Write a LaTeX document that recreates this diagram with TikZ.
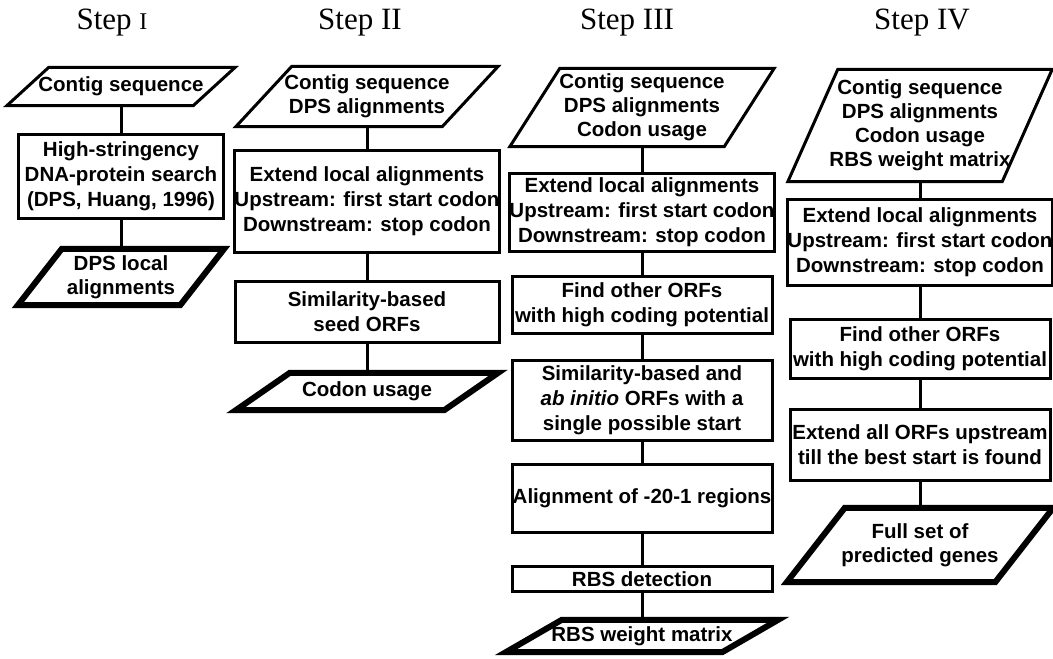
\documentclass[tikz,border=0pt]{standalone}
\usepackage{fontspec}
\setmainfont{Liberation Sans}
\newfontfamily\titlefont{Liberation Serif}
\usetikzlibrary{positioning}

% parallelogram round a text node: name, half slant, style
\newcommand{\iobox}[3]{\draw[#3] ([xshift=-#2]#1.south west) -- ([xshift=#2]#1.north west)
  -- ([xshift=#2]#1.north east) -- ([xshift=-#2]#1.south east) -- cycle;}

\begin{document}
\begin{tikzpicture}[x=1pt,y=-1pt,
  steptitle/.style={font=\titlefont\fontsize{31}{31}\selectfont},
  box/.style={draw,line width=3pt,inner sep=0pt,align=center,
    font=\bfseries\fontsize{20.5}{25}\selectfont},
  io/.style={inner sep=0pt,align=center,font=\bfseries\fontsize{20.5}{24}\selectfont},
  link/.style={line width=3pt}]
\useasboundingbox (0,0) rectangle (1053,659);

\node[steptitle] (t1) at (112,23) {Step {\fontsize{24}{24}\selectfont I}};
\node[steptitle] (t2) at (360,23) {Step II};
\node[steptitle] (t3) at (627,23) {Step III};
\node[steptitle] (t4) at (922,23) {Step IV};

% Step I
\node[io,minimum width=186pt,minimum height=38pt] (in1) at (121,86.5) {Contig sequence};
\node[box,minimum width=205pt,minimum height=84pt] (box1) at (121,176.5)
  {High-stringency\\DNA-protein search\\(DPS, Huang, 1996)};
\node[io,minimum width=162pt,minimum height=56pt] (out1) at (121,277) {DPS local\\alignments};
\iobox{in1}{21pt}{line width=3pt}
\iobox{out1}{22pt}{line width=6pt}

% Step II
\node[io,minimum width=206pt,minimum height=60pt] (in2) at (367,96.5) {Contig sequence\\DPS alignments};
\node[box,minimum width=264pt,minimum height=102pt] (box2a) at (367,201.5)
  {Extend local alignments\\Upstream: first start codon\\Downstream: stop codon};
\node[box,minimum width=264pt,minimum height=61pt] (box2b) at (367,312) {Similarity-based\\seed ORFs};
\node[io,minimum width=208pt,minimum height=37pt] (out2) at (367,391.5) {Codon usage};
\iobox{in2}{28pt}{line width=3pt}
\iobox{out2}{27pt}{line width=6pt}

% Step III
\node[io,minimum width=214pt,minimum height=78pt] (in3) at (642,107.5)
  {Contig sequence\\DPS alignments\\Codon usage};
\node[box,minimum width=260pt,minimum height=78pt] (box3a) at (642,212.5)
  {Extend local alignments\\Upstream: first start codon\\Downstream: stop codon};
\node[box,minimum width=260pt,minimum height=57pt] (box3b) at (642,305)
  {Find other ORFs\\with high coding potential};
\node[box,minimum width=260pt,minimum height=80pt] (box3c) at (642,400.5)
  {Similarity-based and\\\textit{ab initio} ORFs with a\\single possible start};
\node[box,minimum width=260pt,minimum height=68pt] (box3d) at (642,498.5) {Alignment of -20-1 regions};
\node[box,minimum width=260pt,minimum height=25pt] (box3e) at (642,579) {RBS detection};
\node[io,minimum width=216pt,minimum height=32pt] (out3) at (642,636) {RBS weight matrix};
\iobox{in3}{25pt}{line width=3pt}
\iobox{out3}{28pt}{line width=6pt}

% Step IV
\node[io,minimum width=214pt,minimum height=112pt] (in4) at (920,125.5)
  {Contig sequence\\DPS alignments\\Codon usage\\RBS weight matrix};
\node[box,minimum width=260pt,minimum height=86pt] (box4a) at (920,242.5)
  {Extend local alignments\\Upstream: first start codon\\Downstream: stop codon};
\node[box,minimum width=260pt,minimum height=59pt] (box4b) at (920,349)
  {Find other ORFs\\with high coding potential};
\node[box,minimum width=260pt,minimum height=71pt] (box4c) at (920,445)
  {Extend all ORFs upstream\\till the best start is found};
\node[io,minimum width=208pt,minimum height=74pt] (out4) at (920,545) {Full set of\\predicted genes};
\iobox{in4}{25pt}{line width=3pt}
\iobox{out4}{29pt}{line width=6pt}

\draw[link] (in1) -- (box1);
\draw[link] (box1) -- (out1);
\draw[link] (in2) -- (box2a);
\draw[link] (box2a) -- (box2b);
\draw[link] (box2b) -- (out2);
\draw[link] (in3) -- (box3a);
\draw[link] (box3a) -- (box3b);
\draw[link] (box3b) -- (box3c);
\draw[link] (box3c) -- (box3d);
\draw[link] (box3d) -- (box3e);
\draw[link] (box3e) -- (out3);
\draw[link] (in4) -- (box4a);
\draw[link] (box4a) -- (box4b);
\draw[link] (box4b) -- (box4c);
\draw[link] (box4c) -- (out4);

\end{tikzpicture}
\end{document}
